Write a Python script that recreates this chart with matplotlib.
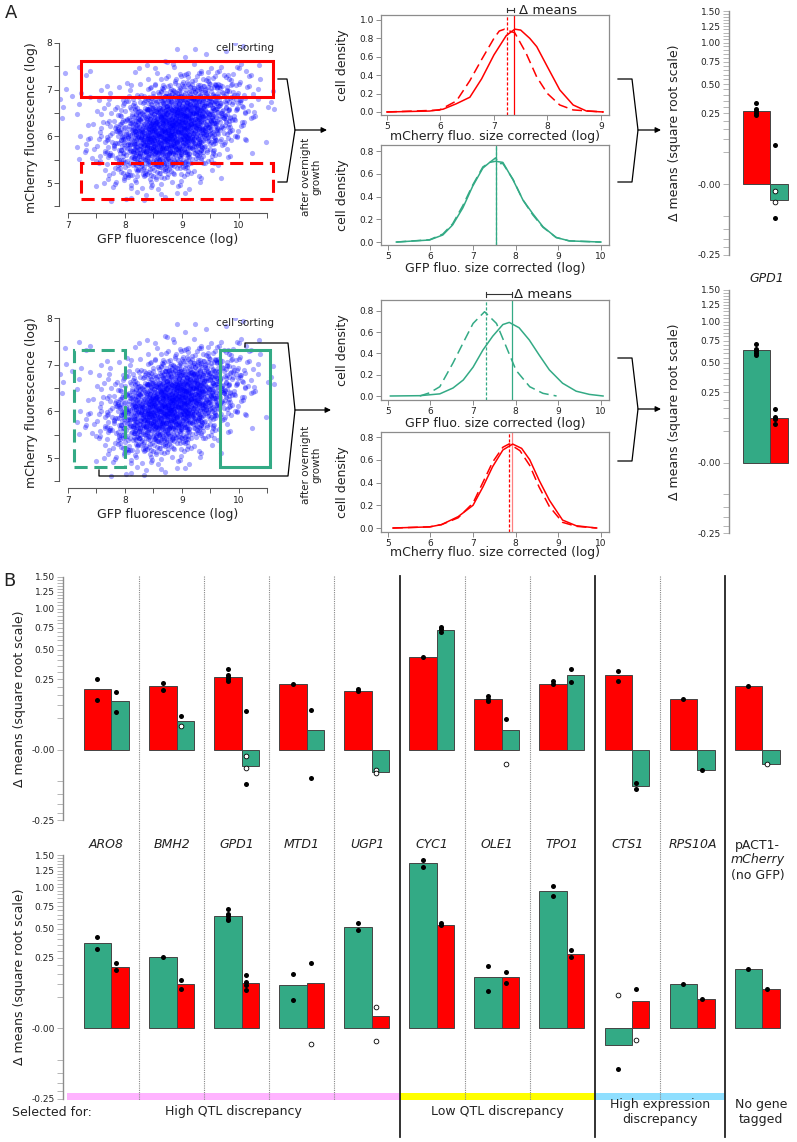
import numpy as np
import matplotlib
matplotlib.use('Agg')
import matplotlib.pyplot as plt
from matplotlib.patches import Rectangle
from matplotlib.ticker import NullFormatter

W, H = 797, 1142
RED = '#ff0000'
GREEN = '#33aa85'
GREY = '#8c8c8c'
TXT = '#222222'

# ---------------- panel B data (delta means) ----------------
genes = ['ARO8', 'BMH2', 'GPD1', 'MTD1', 'UGP1', 'CYC1', 'OLE1', 'TPO1',
         'CTS1', 'RPS10A', 'pACT1']
# top row: cells sorted on mCherry -> red (mCherry) bar, green (GFP) bar
mch_red = [0.186, 0.201, 0.269, 0.220, 0.174, 0.430, 0.130, 0.220, 0.277, 0.127, 0.203]
mch_green = [0.117, 0.041, -0.0128, 0.0187, -0.0257, 0.725, 0.0187, 0.282, -0.066, -0.0214, -0.0098]
mch_red_pts = [[0.25, 0.124], [0.225, 0.18], [0.326, 0.284, 0.267, 0.251, 0.238], [0.22],
               [0.186, 0.172], [0.43], [0.144, 0.130, 0.117], [0.236, 0.216],
               [0.312, 0.238], [0.127], [0.203]]
mch_red_open = [[] for g in genes]
mch_green_pts = [[0.165, 0.072], [0.0556], [0.075, -0.059], [0.0775, -0.040], [],
                 [0.757, 0.729, 0.701], [0.048], [0.328, 0.231], [-0.0545, -0.0761],
                 [-0.0214], []]
mch_green_open = [[], [0.0288], [-0.0022, -0.0162], [], [-0.0217, -0.0266], [],
                  [-0.0108], [], [], [], [-0.0098]]
# bottom row: cells sorted on GFP -> green bar, red bar
gfp_green = [0.365, 0.252, 0.639, 0.0926, 0.517, 1.369, 0.130, 0.944, -0.0145, 0.0999, 0.174]
gfp_red = [0.190, 0.097, 0.101, 0.101, 0.0072, 0.541, 0.134, 0.277, 0.0365, 0.042, 0.076]
gfp_green_pts = [[0.415, 0.315], [0.252], [0.713, 0.654, 0.628, 0.602, 0.587], [0.146, 0.039],
                 [0.559, 0.484], [1.43, 1.314], [0.192, 0.071], [1.014, 0.877],
                 [-0.0842], [0.0999], [0.174]]
gfp_green_open = [[], [], [], [], [], [], [], [], [0.0556], [], []]
gfp_red_pts = [[0.2115, 0.168], [0.115, 0.079], [0.144, 0.106, 0.094, 0.075], [0.216], [],
               [0.555, 0.531], [0.161, 0.104], [0.305, 0.252], [0.0788], [0.042], [0.076]]
gfp_red_open = [[], [], [], [-0.0118], [0.0235, -0.008], [], [], [], [-0.0064], [], []]

groups = ['High QTL discrepancy', 'Low QTL discrepancy', 'High expression\ndiscrepancy',
          'No gene\ntagged']
group_start = [-0.11, 5, 8, 10]
group_end = [5, 8, 10, 11.1]
group_col = ['#ffb3ff', '#ffff00', '#8fdfff', None]
solid_div = [5, 8, 10]
dotted_div = [1, 2, 3, 4, 6, 7, 9]

# ---------------- panel A data ----------------
# cell cloud: counts per 0.25 x 0.25 cell (GFP columns, mCherry rows from top)
cloud_x_edges = [6.88, 7.0, 7.25, 7.5, 7.75, 8.0, 8.25, 8.5, 8.75, 9.0, 9.25, 9.5,
                 9.75, 10.0, 10.25, 10.5]
cloud_y_top = [8.0, 7.75, 7.5, 7.25, 7.0, 6.75, 6.5, 6.25, 6.0, 5.75, 5.5, 5.25, 5.0, 4.75]
cloud_counts = [
    [0, 0, 0, 0, 0, 0, 0, 0, 0, 1, 0, 0, 1, 1, 1],
    [0, 0, 1, 0, 0, 1, 0, 1, 1, 2, 1, 1, 1, 1, 0],
    [0, 0, 2, 0, 0, 1, 1, 1, 3, 4, 5, 4, 3, 2, 1],
    [1, 1, 1, 0, 1, 1, 3, 5, 9, 12, 13, 10, 6, 4, 2],
    [3, 2, 1, 1, 2, 5, 9, 17, 25, 30, 28, 20, 11, 5, 2],
    [1, 1, 1, 2, 4, 10, 20, 34, 45, 48, 40, 26, 13, 6, 2],
    [0, 0, 1, 3, 7, 17, 34, 53, 62, 58, 43, 24, 10, 4, 1],
    [0, 1, 2, 5, 12, 26, 47, 62, 65, 54, 35, 18, 7, 2, 1],
    [0, 1, 3, 6, 15, 31, 50, 58, 55, 42, 24, 11, 4, 1, 0],
    [0, 0, 2, 5, 13, 26, 38, 42, 36, 24, 12, 5, 1, 1, 0],
    [0, 0, 1, 4, 8, 16, 22, 22, 17, 10, 4, 2, 0, 0, 0],
    [0, 0, 1, 2, 4, 7, 9, 8, 6, 3, 1, 1, 0, 0, 0],
    [0, 0, 0, 1, 2, 3, 3, 2, 1, 1, 0, 0, 0, 0, 0],
    [0, 0, 0, 0, 1, 1, 0, 1, 0, 0, 0, 0, 0, 0, 0],
]

# density curves (x, y)
d1_solid_x = [5.0, 5.8, 6.05, 6.3, 6.55, 6.77, 7.0, 7.23, 7.39, 7.5, 7.67, 7.8, 8.0, 8.23, 8.48, 8.73, 9.04]
d1_solid_y = [0, 0.01, 0.03, 0.09, 0.16, 0.36, 0.62, 0.83, 0.90, 0.89, 0.80, 0.71, 0.49, 0.24, 0.076, 0.01, 0]
d1_dash_x = [5.0, 5.98, 6.3, 6.55, 6.77, 7.0, 7.1, 7.2, 7.39, 7.6, 7.8, 8.0, 8.23, 8.48, 9.04]
d1_dash_y = [0, 0.02, 0.12, 0.34, 0.57, 0.80, 0.88, 0.90, 0.86, 0.64, 0.38, 0.2, 0.076, 0.022, 0]
d2_solid_x = [5.2, 5.98, 6.29, 6.52, 6.76, 6.99, 7.23, 7.39, 7.53, 7.7, 7.94, 8.17, 8.4, 8.64, 8.95, 9.26, 10.0]
d2_solid_y = [0, 0.018, 0.062, 0.15, 0.30, 0.49, 0.65, 0.70, 0.71, 0.70, 0.545, 0.37, 0.25, 0.135, 0.04, 0.01, 0]
d2_dash_x = [5.2, 5.98, 6.29, 6.52, 6.76, 6.99, 7.23, 7.39, 7.53, 7.6, 7.7, 7.94, 8.17, 8.4, 8.64, 8.95, 9.26, 10.0]
d2_dash_y = [0, 0.02, 0.07, 0.16, 0.32, 0.50, 0.66, 0.70, 0.74, 0.69, 0.69, 0.55, 0.37, 0.24, 0.13, 0.04, 0.01, 0]
d3_solid_x = [5.06, 5.75, 6.22, 6.53, 6.77, 7.0, 7.23, 7.46, 7.7, 7.85, 8.08, 8.32, 8.55, 8.79, 9.1, 9.42, 9.73, 10.05]
d3_solid_y = [0, 0.003, 0.02, 0.075, 0.15, 0.27, 0.43, 0.56, 0.67, 0.69, 0.64, 0.525, 0.385, 0.245, 0.12, 0.045, 0.015, 0]
d3_dash_x = [5.75, 5.98, 6.22, 6.53, 6.77, 7.0, 7.27, 7.55, 7.78, 8.01, 8.33, 8.64, 8.96]
d3_dash_y = [0, 0.03, 0.087, 0.31, 0.50, 0.68, 0.79, 0.68, 0.46, 0.24, 0.087, 0.025, 0]
d4_solid_x = [5.12, 5.98, 6.26, 6.65, 7.0, 7.23, 7.46, 7.7, 7.93, 8.14, 8.33, 8.55, 8.79, 9.1, 9.42, 9.9]
d4_solid_y = [0, 0.01, 0.03, 0.1, 0.2, 0.36, 0.54, 0.686, 0.738, 0.70, 0.6, 0.42, 0.245, 0.07, 0.02, 0]
d4_dash_x = [5.12, 5.98, 6.26, 6.65, 7.0, 7.23, 7.46, 7.7, 7.85, 8.1, 8.33, 8.55, 8.79, 9.1, 9.42, 9.9]
d4_dash_y = [0, 0.01, 0.03, 0.09, 0.22, 0.40, 0.58, 0.71, 0.74, 0.68, 0.55, 0.36, 0.19, 0.05, 0.015, 0]
# population means (sorted-low dashed, sorted-high solid)
means = [(7.24, 7.37), (7.535, 7.55), (7.30, 7.91), (7.84, 7.91)]

plt.rcParams['font.family'] = 'DejaVu Sans'
fig = plt.figure(figsize=(W / 100, H / 100), dpi=100)


def px_axes(x0, y0, x1, y1):
    return fig.add_axes([x0 / W, 1 - y1 / H, (x1 - x0) / W, (y1 - y0) / H])


def halton(idx, base):
    res = np.zeros(len(idx))
    f = 1.0
    i = np.array(idx)
    while np.any(i > 0):
        f /= base
        res += f * (i % base)
        i = i // base
    return res


# spread the cell counts into points: low-discrepancy layout inside each cell,
# shifted per cell and spread over twice the cell size so the cells blend evenly
cx, cy = [], []
cell = 0
for r, row in enumerate(cloud_counts):
    y0 = cloud_y_top[r] - 0.25
    for c, n in enumerate(row):
        if n == 0:
            continue
        cell += 1
        idx = np.arange(1, n + 1)
        sx = halton([cell], 5)[0]
        sy = halton([cell], 7)[0]
        ux = (halton(idx, 2) + sx) % 1.0
        uy = (halton(idx, 3) + sy) % 1.0
        x0 = cloud_x_edges[c]
        w = cloud_x_edges[c + 1] - x0
        cx.append(x0 + w * (2.0 * ux - 0.5))
        cy.append(y0 + 0.25 * (2.0 * uy - 0.5))
cx = np.concatenate(cx)
cy = np.concatenate(cy)


def scatter_panel(y0, boxes):
    ax = px_axes(59.4, y0, 276, y0 + 170)
    ax.scatter(cx, cy, s=14, color='blue', alpha=0.32, lw=0)
    for (bx, by, bw, bh, col, ls) in boxes:
        ax.add_patch(Rectangle((bx, by), bw, bh, fill=False, ec=col, lw=2.2, ls=ls, zorder=3))
    ax.set_xlim(6.85, 10.65)
    ax.set_ylim(4.36, 8.0)
    for s in ['top', 'right']:
        ax.spines[s].set_visible(False)
    ax.spines['left'].set_bounds(4.5, 8)
    ax.spines['bottom'].set_bounds(7, 10.5)
    for s in ['left', 'bottom']:
        ax.spines[s].set_color('#555555')
        ax.spines[s].set_linewidth(0.8)
    ax.set_xticks(np.arange(7, 10.51, 0.5))
    ax.set_xticklabels(['7', '', '8', '', '9', '', '10', ''])
    ax.set_yticks(np.arange(4.5, 8.01, 0.5))
    ax.set_yticklabels(['', '5', '', '6', '', '7', '', '8'])
    ax.tick_params(length=3.5, width=0.7, color='#555555', labelsize=6.5,
                   labelcolor=TXT, pad=2)
    ax.set_xlabel('GFP fluorescence (log)', fontsize=9, color=TXT)
    ax.set_ylabel('mCherry fluorescence (log)', fontsize=9, color=TXT)
    ax.xaxis.set_label_coords(0.5, -0.12)
    ax.yaxis.set_label_coords(-0.10, 0.5)
    ax.patch.set_visible(False)
    return ax


scatter_panel(43, [(7.23, 6.84, 3.37, 0.77, RED, '-'),
                   (7.23, 4.65, 3.37, 0.77, RED, (0, (4.3, 2.2)))])
scatter_panel(318, [(7.1, 4.81, 0.9, 2.5, GREEN, (0, (4.3, 2.2))),
                    (9.67, 4.81, 0.87, 2.5, GREEN, '-')])


def density_panel(y0, xlim, ylim, xticks, yticks, curves, m, col, xlab, labpos,
                  solid_alpha=1.0):
    ax = px_axes(381, y0, 609, y0 + 100)
    (sx, sy), (dx, dy) = curves
    ax.plot(dx, dy, color=col, lw=1.1, ls=(0, (6.5, 3.3)))
    ax.plot(sx, sy, color=col, lw=1.1)
    ax.axvline(m[0], color=col, lw=0.9, ls=(0, (2.5, 1.5)))
    ax.axvline(m[1], color=col, lw=0.9, alpha=solid_alpha)
    ax.set_xlim(*xlim)
    ax.set_ylim(*ylim)
    ax.set_xticks(xticks)
    ax.set_yticks(yticks)
    ax.set_yticklabels(['%.1f' % v for v in yticks])
    for s in ax.spines.values():
        s.set_color(GREY)
        s.set_linewidth(0.9)
    ax.tick_params(length=3.5, width=0.7, color=GREY, labelsize=6.5, labelcolor=TXT, pad=1.5)
    ax.set_xlabel(xlab, fontsize=9, color=TXT)
    ax.xaxis.set_label_coords(0.5, labpos)
    ax.set_ylabel('cell density', fontsize=9, color=TXT)
    ax.yaxis.set_label_coords(-0.14, 0.5)
    return ax


a1 = density_panel(15, (4.89, 9.15), (-0.033, 1.054), [5, 6, 7, 8, 9],
                   [0, 0.2, 0.4, 0.6, 0.8, 1.0],
                   [(d1_solid_x, d1_solid_y), (d1_dash_x, d1_dash_y)], means[0], RED,
                   'mCherry fluo. size corrected (log)', -0.15)
a2 = density_panel(145, (4.84, 10.19), (-0.026, 0.853), [5, 6, 7, 8, 9, 10],
                   [0, 0.2, 0.4, 0.6, 0.8],
                   [(d2_solid_x, d2_solid_y), (d2_dash_x, d2_dash_y)], means[1], GREEN,
                   'GFP fluo. size corrected (log)', -0.17)
a3 = density_panel(300, (4.84, 10.19), (-0.0375, 0.9), [5, 6, 7, 8, 9, 10],
                   [0, 0.2, 0.4, 0.6, 0.8],
                   [(d3_solid_x, d3_solid_y), (d3_dash_x, d3_dash_y)], means[2], GREEN,
                   'GFP fluo. size corrected (log)', -0.17)
a4 = density_panel(432, (4.84, 10.19), (-0.035, 0.844), [5, 6, 7, 8, 9, 10],
                   [0, 0.2, 0.4, 0.6, 0.8],
                   [(d4_solid_x, d4_solid_y), (d4_dash_x, d4_dash_y)], means[3], RED,
                   'mCherry fluo. size corrected (log)', -0.14, solid_alpha=0.5)

for ax, m, yb, gap in [(a1, means[0], 1.05, 0.1), (a3, means[2], 1.06, 0.05)]:
    tr = ax.get_xaxis_transform()
    ax.plot([m[0], m[1]], [yb, yb], color='#333333', lw=0.8, transform=tr, clip_on=False)
    for xv in m:
        ax.plot([xv, xv], [yb - 0.025, yb + 0.025], color='#333333', lw=0.8,
                transform=tr, clip_on=False)
    ax.text(m[1] + gap, yb, '\u0394 means', transform=tr, fontsize=9.5, color=TXT,
            va='center', ha='left')


# ---------------- square-root scaled bar panels ----------------
def fwd(v):
    v = np.asarray(v, dtype=float)
    return np.sign(v) * np.sqrt(np.abs(v))


def inv(t):
    t = np.asarray(t, dtype=float)
    return np.sign(t) * t ** 2


PXU = 141.1
major = [-0.25, 0, 0.25, 0.5, 0.75, 1.0, 1.25, 1.5]
major_lab = ['-0.25', '-0.00', '0.25', '0.50', '0.75', '1.00', '1.25', '1.50']
minor = np.round(np.arange(-0.25, 1.501, 0.05), 2)


def sqrt_axes(x0, x1, zero_px, xlim, lab_x):
    ax = px_axes(x0, zero_px - np.sqrt(1.5) * PXU, x1, zero_px + 0.5 * PXU)
    ax.set_yscale('function', functions=(fwd, inv))
    ax.set_ylim(-0.25, 1.5)
    ax.set_xlim(*xlim)
    ax.set_yticks(major)
    ax.set_yticklabels(major_lab)
    ax.set_yticks(minor, minor=True)
    ax.yaxis.set_minor_formatter(NullFormatter())
    for s in ['top', 'right', 'bottom']:
        ax.spines[s].set_visible(False)
    ax.spines['left'].set_color(GREY)
    ax.spines['left'].set_linewidth(1.0)
    ax.tick_params(axis='y', which='both', length=4, width=0.6, color='#aaaaaa',
                   labelsize=6.5, labelcolor=TXT, pad=2)
    ax.tick_params(axis='x', bottom=False, labelbottom=False)
    ax.set_ylabel('\u0394 means (square root scale)', fontsize=9, color=TXT)
    ax.yaxis.set_label_coords(lab_x, 0.5)
    ax.patch.set_visible(False)
    return ax


def draw_bars(ax, idx, v1, v2, c1, c2, p1, p2, o1, o2):
    pos = np.array(idx, dtype=float)
    ax.bar(pos + 0.15, [v1[i] for i in idx], width=0.425, align='edge', color=c1,
           ec='#444444', lw=0.7, zorder=2)
    ax.bar(pos + 0.575, [v2[i] for i in idx], width=0.265, align='edge', color=c2,
           ec='#444444', lw=0.7, zorder=2)
    for j, i in enumerate(idx):
        for xo, pts, opn in [(0.36, p1[i], o1[i]), (0.64, p2[i], o2[i])]:
            if pts:
                ax.plot([pos[j] + xo] * len(pts), pts, 'o', color='k', ms=3.6, mew=0,
                        zorder=4, clip_on=False)
            if opn:
                ax.plot([pos[j] + xo] * len(opn), opn, 'o', mfc='white', mec='k', ms=3.4,
                        mew=0.6, zorder=4, clip_on=False)


# panel B overlay (column units horizontally, pixels vertically)
BX0, BX1 = 63, 797
bxlim = (-0.169, 11.106)
ov = fig.add_axes([BX0 / W, 0, (BX1 - BX0) / W, 1])
ov.set_xlim(*bxlim)
ov.set_ylim(H, 0)
ov.axis('off')
ov.patch.set_visible(False)
for d in dotted_div:
    ov.plot([d, d], [576, 1099.5], color='#888888', lw=0.8, ls=(0, (1, 1)))
for d in solid_div:
    ov.plot([d, d], [576, 1137], color='#222222', lw=1.3)
for gs, ge, gc, gname in zip(group_start, group_end, group_col, groups):
    if gc:
        ov.bar(gs, -7, width=ge - gs, bottom=1099.5, align='edge', color=gc, lw=0, zorder=0)
    ov.text((gs + ge) / 2, 1112, gname, ha='center', va='center', fontsize=9,
            color=TXT, linespacing=1.25)
ov.text(-0.95, 1112, 'Selected for:', ha='left', va='center', fontsize=9, color=TXT)
for i, g in enumerate(genes[:-1]):
    ov.text(i + 0.5, 845, g, ha='center', va='center', fontsize=9, style='italic', color=TXT)
ov.text(10.5, 845, 'pACT1-', ha='center', va='center', fontsize=9, color=TXT)
ov.text(10.5, 860, 'mCherry', ha='center', va='center', fontsize=9, style='italic', color=TXT)
ov.text(10.5, 875, '(no GFP)', ha='center', va='center', fontsize=9, color=TXT)

cols = list(range(len(genes)))
bt = sqrt_axes(BX0, BX1, 749.7, bxlim, -0.050)
draw_bars(bt, cols, mch_red, mch_green, RED, GREEN, mch_red_pts, mch_green_pts,
          mch_red_open, mch_green_open)
bb = sqrt_axes(BX0, BX1, 1028.3, bxlim, -0.050)
draw_bars(bb, cols, gfp_green, gfp_red, GREEN, RED, gfp_green_pts, gfp_red_pts,
          gfp_green_open, gfp_red_open)

# panel A: GPD1 bars
gi = genes.index('GPD1')
at = sqrt_axes(729, 797, 184, (-0.06, 0.985), -0.70)
draw_bars(at, [gi], mch_red, mch_green, RED, GREEN, mch_red_pts, mch_green_pts,
          mch_red_open, mch_green_open)
at.set_xlim(gi - 0.06, gi + 0.985)
ab = sqrt_axes(729, 797, 462.7, (-0.06, 0.985), -0.70)
draw_bars(ab, [gi], gfp_green, gfp_red, GREEN, RED, gfp_green_pts, gfp_red_pts,
          gfp_green_open, gfp_red_open)
ab.set_xlim(gi - 0.06, gi + 0.985)

# ---------------- figure-level annotations (pixels) ----------------
fo = fig.add_axes([0, 0, 1, 1])
fo.set_xlim(0, W)
fo.set_ylim(H, 0)
fo.axis('off')
fo.patch.set_visible(False)
lk = dict(color='k', lw=0.9)
ak = dict(arrowstyle='-|>', color='k', lw=0.9, mutation_scale=8, shrinkA=0, shrinkB=0)
fo.plot([278, 287, 295, 287, 278], [79, 79, 130, 182, 182], **lk)
fo.annotate('', xy=(327, 130), xytext=(295, 130), arrowprops=ak)
fo.plot([245, 245, 288, 295, 288, 99, 99], [347, 343, 343, 410, 476, 476, 470], **lk)
fo.annotate('', xy=(331, 410), xytext=(295, 410), arrowprops=ak)
for yc in [177, 465]:
    fo.text(311, yc, 'after overnight\ngrowth', rotation=90, ha='center', va='center',
            fontsize=7.5, color=TXT, linespacing=1.1)
for yc in [48, 323]:
    fo.text(245, yc, 'cell sorting', ha='center', va='center', fontsize=7.5, color=TXT)
for ym in [130, 409]:
    fo.plot([618, 632, 638, 632, 618], [ym - 51, ym - 51, ym, ym + 52, ym + 52], **lk)
    fo.annotate('', xy=(661, ym), xytext=(638, ym), arrowprops=ak)
fo.text(767, 279, 'GPD1', ha='center', va='center', fontsize=9, style='italic', color=TXT)
fo.text(11, 13, 'A', ha='center', va='center', fontsize=13, color=TXT)
fo.text(9, 581, 'B', ha='center', va='center', fontsize=13, color=TXT)

fig.savefig('out.png', dpi=100)
